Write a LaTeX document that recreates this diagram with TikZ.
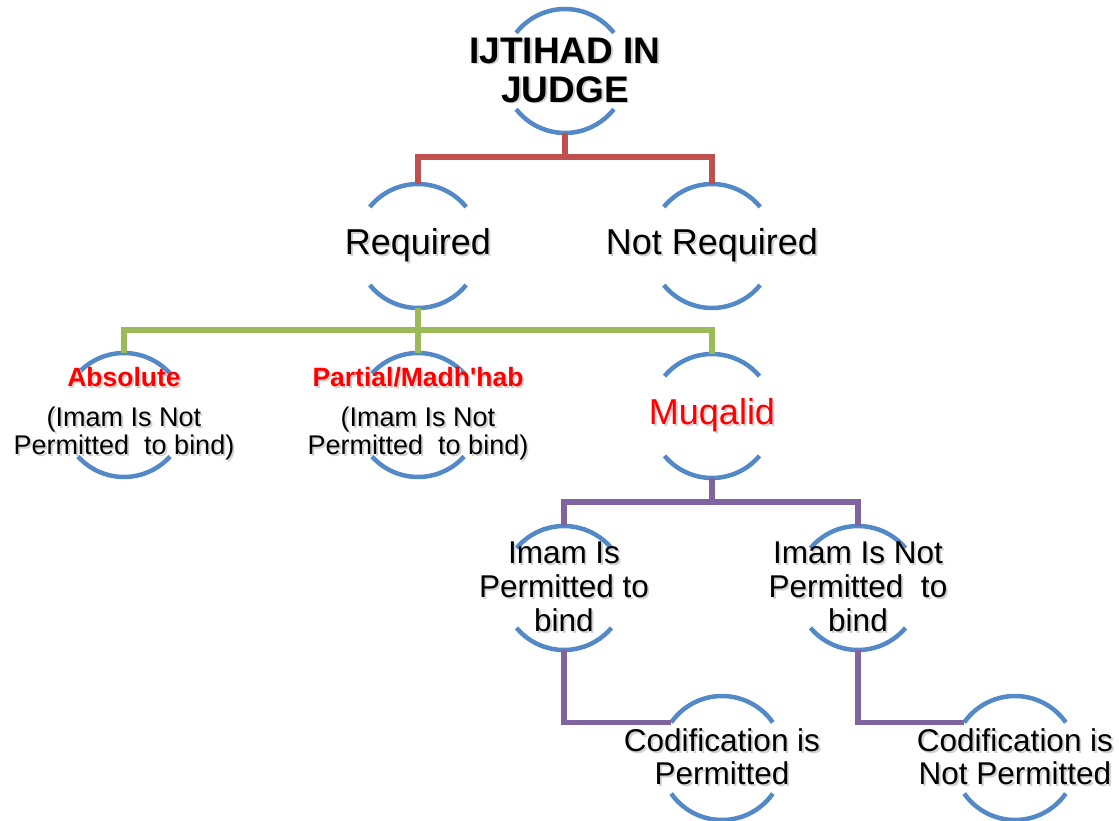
\documentclass[tikz,border=0pt]{standalone}
\usepackage{fontspec}
\setmainfont{Liberation Sans}
\usetikzlibrary{calc}
\definecolor{ringblue}{RGB}{84,137,200}
\definecolor{lred}{RGB}{192,80,77}
\definecolor{lgreen}{RGB}{155,187,89}
\definecolor{lpurple}{RGB}{128,100,162}
\newcommand\shd[1]{\makebox[0pt][l]{\kern1.8pt\raisebox{-1.8pt}{\textcolor{black!18}{#1}}}#1}
\pgfdeclarelayer{bg}\pgfsetlayers{bg,main}
\newcommand\ringat[2]{%
  \draw[ring] (#1.center) ++({180-#2}:62) arc[start angle={180-#2}, end angle=#2, radius=62];
  \draw[ring] (#1.center) ++({180+#2}:62) arc[start angle={180+#2}, end angle={360-#2}, radius=62];
  \path (#1.center) ++(0,62) coordinate (#1-t);
  \path (#1.center) ++(0,-62) coordinate (#1-b);
  \path (#1.center) ++({180-#2}:62) coordinate (#1-l);
}
\tikzset{
  ring/.style={draw=ringblue, line width=4.5pt},
  lbl/.style={inner sep=0pt, align=center, text=black},
  big/.style={lbl, font=\fontsize{36}{39}\selectfont},
  mid/.style={lbl, font=\fontsize{31.5}{34}\selectfont},
  sml/.style={lbl, font=\fontsize{27}{28}\selectfont},
  redln/.style={draw=lred, line width=5.5pt},
  grnln/.style={draw=lgreen, line width=5.5pt},
  purln/.style={draw=lpurple, line width=5.5pt},
}
\begin{document}
\begin{tikzpicture}[x=1pt, y=1pt]
\useasboundingbox (0,0) rectangle (1119,-821);
% nodes
\node[lbl, font=\fontsize{37}{39}\selectfont\bfseries] (top) at (565,-71) {\shd{IJTIHAD IN}\\\shd{JUDGE}};
\node[big] (req) at (418,-246) {\shd{Required}};
\node[big] (nreq) at (712,-246) {\shd{Not Required}};
\node[sml] (abs) at (124,-415) {{\fontsize{26.5}{28}\selectfont\bfseries\color{red}\shd{Absolute}}\\[12pt]\shd{(Imam Is Not}\\\shd{Permitted\ \ to bind)}};
\node[sml] (part) at (418,-415) {{\fontsize{26.5}{28}\selectfont\bfseries\color{red}\shd{Partial/Madh\textquotesingle hab}}\\[12pt]\shd{(Imam Is Not}\\\shd{Permitted\ \ to bind)}};
\node[big, text=red] (muq) at (712,-416) {\shd{Muqalid}};
\node[mid] (imp) at (564,-588) {\shd{Imam Is}\\\shd{Permitted to}\\\shd{bind}};
\node[mid] (inp) at (858,-588) {\shd{Imam Is Not}\\\shd{Permitted\ \ to}\\\shd{bind}};
\node[mid, font=\fontsize{31.5}{33}\selectfont] (cod) at (722,-758) {\shd{Codification is}\\\shd{Permitted}};
\node[mid, font=\fontsize{31.5}{33}\selectfont] (codn) at (1015,-758) {\shd{Codification is}\\\shd{Not Permitted}};
\begin{pgfonlayer}{bg}
  \path (top.center) ++(0,0) coordinate (topc);
  \ringat{top}{38}
  \ringat{req}{39}
  \ringat{nreq}{39}
  \ringat{abs}{42}
  \ringat{part}{42}
  \ringat{muq}{40}
  \ringat{imp}{40}
  \ringat{inp}{40}
  \ringat{cod}{35}
  \ringat{codn}{35}
  % red connectors
  \draw[redln] (top-b) -- ++(0,-24) -| (req-t);
  \draw[redln] (top-b) -- ++(0,-24) -| (nreq-t);
  % green connectors
  \draw[grnln] (req-b) -- ++(0,-22) -| (abs-t);
  \draw[grnln] (req-b) -- (part-t);
  \draw[grnln] (req-b) -- ++(0,-22) -| (muq-t);
  % purple connectors
  \draw[purln] (muq-b) -- ++(0,-24) -| (imp-t);
  \draw[purln] (muq-b) -- ++(0,-24) -| (inp-t);
  \draw[purln] (imp-b) |- (cod-l);
  \draw[purln] (inp-b) |- (codn-l);
\end{pgfonlayer}
\end{tikzpicture}
\end{document}
